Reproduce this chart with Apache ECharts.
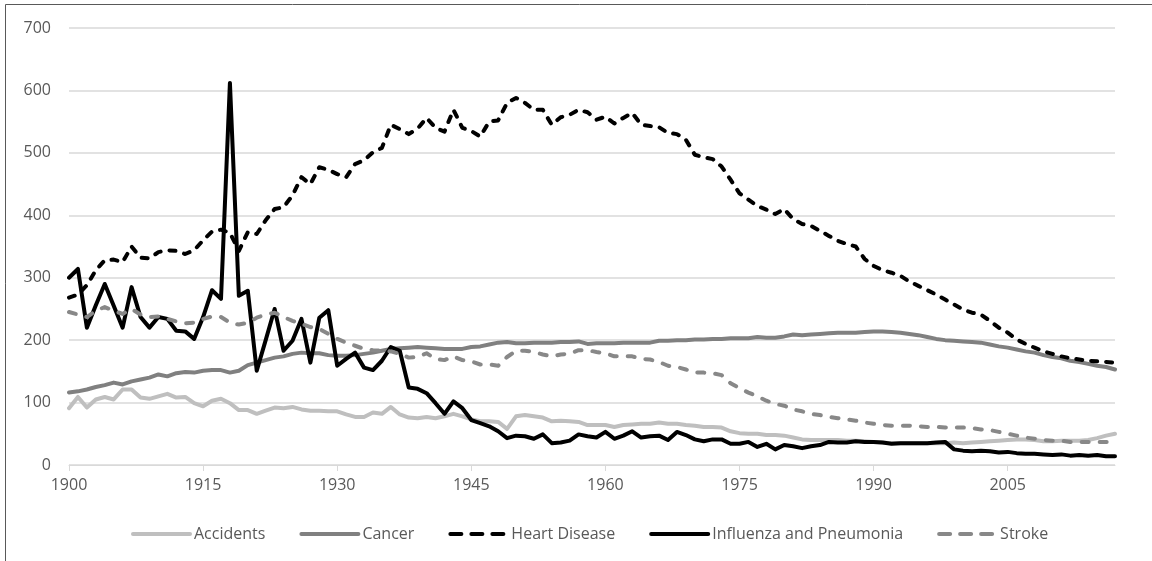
<!DOCTYPE html>
<html>
<head>
<meta charset="utf-8">
<script src="https://cdn.jsdelivr.net/npm/echarts@6/dist/echarts.min.js"></script>
<style>
  html, body { margin: 0; padding: 0; background: #fff; }
  #main { width: 1152px; height: 561px; }
</style>
</head>
<body>
<div id="main"></div>
<script>
// years 1900 - 2017
var years = []
for (var y = 1900; y <= 2017; y++) years.push(String(y))

var seriesNames = ["Accidents", "Cancer", "Heart Disease", "Influenza and Pneumonia", "Stroke"]

var accidents = [
  91, 109, 92, 105, 109, 105, 121, 121, 108, 106,
  110, 114, 108, 109, 99, 94, 103, 106, 99, 88,
  88, 82, 87, 92, 91, 93, 89, 87, 87, 86,
  86, 81, 77, 77, 84, 82, 93, 81, 76, 75,
  77, 75, 78, 82, 78, 73, 70, 70, 69, 58,
  78, 80, 78, 76, 70, 71, 70, 69, 64, 64,
  64, 61, 64, 65, 66, 66, 68, 66, 66, 64,
  63, 61, 61, 60, 54, 51, 50, 50, 48, 48,
  47, 44, 41, 40, 40, 40, 40, 39, 39, 38,
  37, 36, 35, 35, 35, 35, 35, 35, 35, 36,
  35, 36, 37, 38, 39, 40, 41, 41, 40, 38,
  38, 39, 39, 39, 40, 43, 47, 50
]

var cancer = [
  116, 118, 121, 125, 128, 132, 129, 134, 137, 140,
  145, 142, 147, 149, 148, 151, 152, 152, 148, 151,
  160, 164, 168, 172, 174, 178, 180, 179, 179, 176,
  175, 175, 176, 178, 180, 183, 186, 187, 188, 189,
  188, 187, 186, 186, 186, 189, 190, 193, 196, 197,
  195, 195, 196, 196, 196, 197, 197, 198, 194, 195,
  195, 195, 196, 196, 196, 196, 199, 199, 200, 200,
  201, 201, 202, 202, 203, 203, 203, 205, 204, 204,
  206, 209, 208, 209, 210, 211, 212, 212, 212, 213,
  214, 214, 213, 212, 210, 208, 205, 202, 200, 199,
  198, 197, 196, 193, 190, 188, 185, 182, 180, 176,
  173, 171, 167, 165, 162, 159, 157, 153
]

var heartDisease = [
  268, 273, 288, 312, 328, 329, 325, 350, 332, 331,
  341, 344, 343, 338, 344, 360, 374, 377, 372, 343,
  373, 370, 392, 410, 413, 432, 461, 450, 477, 473,
  466, 461, 482, 488, 501, 508, 545, 538, 530, 539,
  556, 540, 534, 569, 540, 535, 526, 550, 552, 580,
  588, 580, 569, 569, 545, 557, 561, 569, 565, 553,
  558, 547, 556, 564, 545, 543, 541, 532, 530, 521,
  497, 493, 490, 478, 457, 435, 425, 415, 409, 402,
  410, 394, 386, 383, 375, 367, 359, 354, 350, 330,
  319, 312, 308, 303, 294, 287, 280, 273, 265, 257,
  249, 244, 241, 231, 220, 212, 201, 194, 188, 182,
  178, 174, 171, 169, 167, 166, 165, 164
]

var influenza = [
  300, 314, 220, 256, 290, 255, 220, 285, 237, 220,
  237, 234, 215, 214, 202, 237, 280, 266, 612, 271,
  279, 151, 200, 250, 183, 199, 234, 164, 236, 248,
  159, 170, 180, 156, 152, 167, 189, 183, 124, 122,
  115, 99, 82, 102, 91, 72, 67, 62, 54, 43,
  47, 46, 42, 49, 35, 36, 39, 49, 46, 44,
  53, 42, 47, 54, 44, 46, 47, 40, 53, 48,
  41, 38, 41, 41, 34, 34, 37, 29, 34, 25,
  32, 30, 27, 30, 32, 37, 36, 36, 38, 37,
  37, 36, 34, 35, 35, 35, 35, 36, 37, 25,
  23, 22, 23, 22, 20, 21, 19, 18, 18, 17,
  16, 17, 15, 16, 15, 16, 14, 14
]

var stroke = [
  245, 241, 237, 247, 253, 247, 242, 250, 241, 237,
  238, 234, 230, 227, 228, 234, 238, 237, 228, 225,
  228, 236, 241, 244, 237, 231, 226, 221, 218, 210,
  202, 196, 191, 186, 184, 183, 182, 178, 172, 173,
  179, 170, 168, 174, 168, 166, 161, 161, 159, 173,
  183, 183, 181, 177, 174, 177, 178, 184, 184, 181,
  179, 174, 174, 174, 170, 169, 165, 159, 157, 153,
  148, 148, 147, 144, 131, 123, 116, 110, 103, 98,
  95, 89, 86, 82, 80, 77, 75, 73, 71, 68,
  66, 64, 63, 63, 63, 62, 61, 61, 60, 60,
  60, 59, 57, 56, 53, 50, 47, 44, 42, 40,
  39, 39, 37, 37, 37, 37, 37, 37
]

var yTicks = [0, 100, 200, 300, 400, 500, 600, 700]

var font = "'Open Sans', 'Noto Sans', sans-serif"
var textColor = "#595959"

function line(name, data, color, type) {
  return {
    name: name,
    type: 'line',
    data: data,
    symbol: 'none',
    showSymbol: false,
    animation: false,
    lineStyle: { color: color, width: 4, type: type || 'solid', cap: 'round', join: 'round' },
    itemStyle: { color: color }
  }
}

var myChart = echarts.init(document.getElementById('main'))

var option = {
  backgroundColor: '#fff',
  animation: false,
  textStyle: { fontFamily: font },
  graphic: [{
    type: 'rect',
    shape: { x: 5.5, y: 4.5, width: 1300, height: 700 },
    style: { fill: 'none', stroke: '#595959', lineWidth: 1 },
    silent: true
  }],
  grid: { left: 69, right: 37, top: 28, bottom: 96 },
  legend: {
    left: 126,
    top: 521,
    itemWidth: 57,
    itemHeight: 14,
    itemGap: 34,
    itemStyle: { opacity: 0 },
    lineStyle: { width: 4, cap: 'round' },
    textStyle: { color: textColor, fontSize: 16, fontFamily: font, padding: [0, 0, 0, -1] },
    data: [
      { name: seriesNames[0] },
      { name: seriesNames[1] },
      { name: seriesNames[2], lineStyle: { width: 4, type: [11, 10] } },
      { name: seriesNames[3] },
      { name: seriesNames[4], lineStyle: { width: 4, type: [11, 10] } }
    ]
  },
  xAxis: {
    type: 'category',
    data: years,
    boundaryGap: false,
    axisLine: { lineStyle: { color: '#d9d9d9', width: 1 } },
    axisTick: { show: true, interval: 14, length: 6, lineStyle: { color: '#d9d9d9' } },
    axisLabel: { interval: 14, color: textColor, fontSize: 16, margin: 12, fontFamily: font },
    splitLine: { show: false }
  },
  yAxis: {
    type: 'value',
    min: yTicks[0],
    max: yTicks[yTicks.length - 1],
    interval: 100,
    axisLine: { show: false },
    axisTick: { show: false },
    axisLabel: { color: textColor, fontSize: 16, margin: 18, fontFamily: font },
    splitLine: { lineStyle: { color: '#d9d9d9', width: 1.5 } }
  },
  series: [
    line(seriesNames[0], accidents, '#bfbfbf'),
    line(seriesNames[1], cancer, '#808080'),
    line(seriesNames[2], heartDisease, '#000000', [6, 9]),
    line(seriesNames[3], influenza, '#000000'),
    line(seriesNames[4], stroke, '#888888', [7, 11])
  ]
}

myChart.setOption(option)
</script>
</body>
</html>
